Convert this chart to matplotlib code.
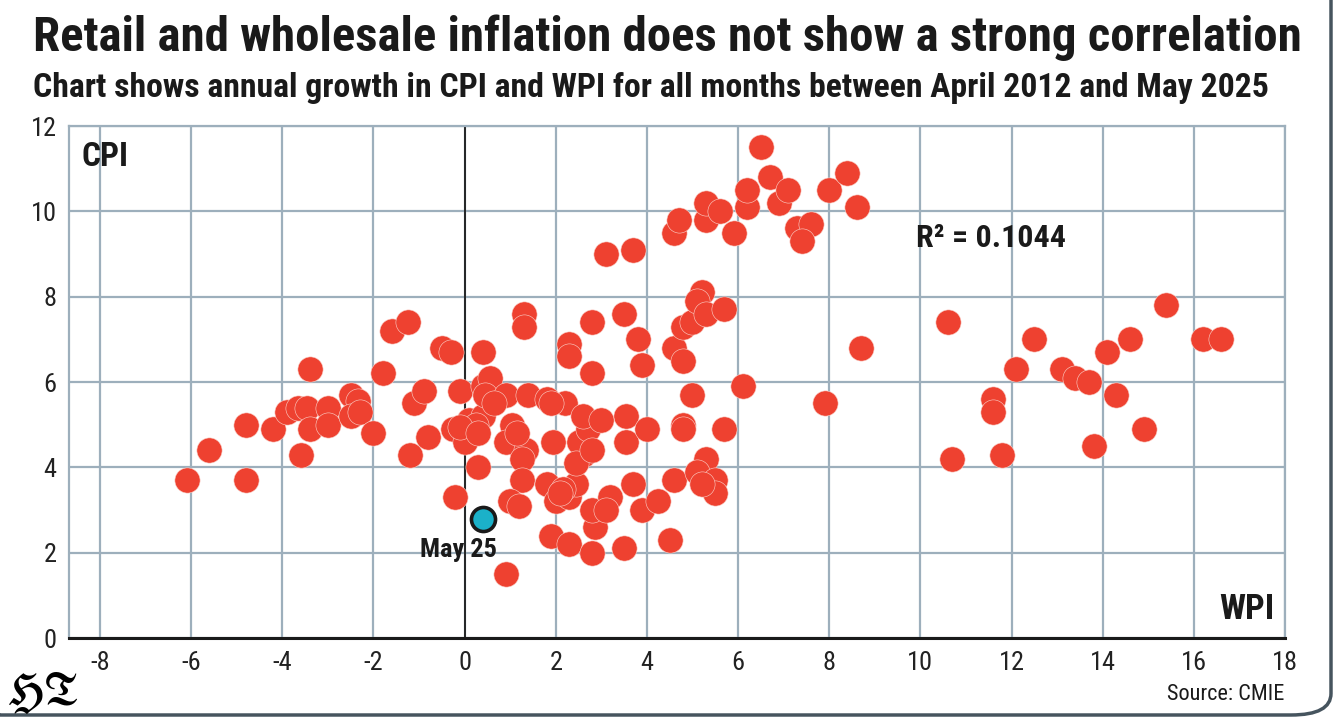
import matplotlib
matplotlib.use("Agg")
import matplotlib.pyplot as plt
from matplotlib.patches import FancyBboxPatch

# data: annual growth (%) of WPI (x) and CPI (y)
wpi = [-6.1, -5.6, -4.8, -4.8, -4.2, -3.9, -3.65, -3.45, -3.4, -3.4,
       -3.6, -3.0, -3.0, -2.5, -2.35, -2.5, -2.3, -2.0, -1.8, -1.6,
       -1.25, -1.2, -1.1, -0.9, -0.8, -0.5, -0.3, -0.1, -0.25, 0.0,
       -0.2, 0.1, 0.4, 0.4, 0.55, 0.3, 0.4, 0.25, 0.45, 0.9,
       0.65, 0.9, 1.05, 1.2, 0.9, 1.35, 1.25, 1.95, 1.25, 1.0,
       1.2, 1.8, 2.0, 2.3, 2.45, 1.9, 2.3, 2.8, 3.5, 4.5,
       2.85, 2.8, 3.2, 3.1, 3.7, 3.9, 4.25, 4.6, 5.3, 5.1,
       5.5, 5.5, 5.2, 2.6, 2.5, 2.7, 3.55, 3.55, 4.0, 4.8,
       4.8, 5.7, 1.3, 1.3, 1.4, 1.8, 2.2, 2.6, 3.0, 2.8,
       3.5, 3.8, 3.9, 2.3, 2.3, 2.8, 4.6, 4.8, 4.8, 5.0,
       5.2, 5.1, 5.3, 5.7, 5.0, 6.1, -0.1, 2.45, 2.8, 1.15,
       3.1, 3.7, 4.6, 4.7, 5.3, 5.3, 5.6, 5.9, 6.2, 6.2,
       6.5, 6.7, 6.9, 7.1, 7.3, 7.6, 7.4, 8.0, 8.4, 8.6,
       8.7, 7.9, 10.6, 10.7, 11.6, 11.6, 11.8, 12.1, 12.5, 13.1,
       13.4, 13.7, 13.8, 14.1, 14.3, 14.6, 14.9, 15.4, 16.2, 16.6,
       2.15, 0.3, 1.9, 2.1]
cpi = [3.7, 4.4, 5.0, 3.7, 4.9, 5.3, 5.4, 5.4, 4.9, 6.3,
       4.3, 5.4, 5.0, 5.7, 5.55, 5.2, 5.3, 4.8, 6.2, 7.2,
       7.4, 4.3, 5.5, 5.8, 4.7, 6.8, 6.7, 5.8, 4.9, 4.6,
       3.3, 5.1, 5.2, 5.9, 6.1, 4.0, 6.7, 5.0, 5.7, 5.7,
       5.5, 1.5, 5.0, 4.5, 4.6, 4.4, 4.2, 4.6, 3.7, 3.2,
       3.1, 3.6, 3.2, 3.3, 3.6, 2.4, 2.2, 2.0, 2.1, 2.3,
       2.6, 3.0, 3.3, 3.0, 3.6, 3.0, 3.2, 3.7, 4.2, 3.9,
       3.7, 3.4, 3.6, 4.3, 4.6, 4.9, 4.6, 5.2, 4.9, 5.0,
       4.9, 4.9, 7.6, 7.3, 5.7, 5.6, 5.5, 5.2, 5.1, 7.4,
       7.6, 7.0, 6.4, 6.9, 6.6, 6.2, 6.8, 6.5, 7.3, 7.4,
       8.1, 7.9, 7.6, 7.7, 5.7, 5.9, 4.95, 4.1, 4.4, 4.8,
       9.0, 9.1, 9.5, 9.8, 9.8, 10.2, 10.0, 9.5, 10.1, 10.5,
       11.5, 10.8, 10.2, 10.5, 9.6, 9.7, 9.3, 10.5, 10.9, 10.1,
       6.8, 5.5, 7.4, 4.2, 5.6, 5.3, 4.3, 6.3, 7.0, 6.3,
       6.1, 6.0, 4.5, 6.7, 5.7, 7.0, 4.9, 7.8, 7.0, 7.0,
       3.5, 4.8, 5.5, 3.4]

latest_wpi = [0.4]
latest_cpi = [2.8]
latest_label = "May 25"
r2_text = "R\u00b2 = 0.1044"

xticks = list(range(-8, 19, 2))
yticks = list(range(0, 13, 2))

plt.rcParams["font.family"] = ["Roboto Condensed", "Open Sans Condensed", "Roboto", "DejaVu Sans"]

red = "#ee4130"
cyan = "#1bb1c9"
gridc = "#9dafbc"
ink = "#1a1a1a"

W, H = 1333, 717
fig = plt.figure(figsize=(W / 100, H / 100), dpi=100)
ax = fig.add_axes([69 / W, (H - 638) / H, (1285 - 69) / W, (638 - 126) / H])

ax.set_xlim(-8.68, 18)
ax.set_ylim(0, 12)
ax.set_xticks(xticks)
ax.set_yticks(yticks)
ax.set_xticklabels([str(t) for t in xticks])
ax.set_yticklabels([str(t) for t in yticks])
ax.tick_params(length=0, labelsize=19, colors="#222222", pad=9)
ax.grid(True, color=gridc, lw=1.6)
ax.set_axisbelow(True)
for s in ["left", "top", "right"]:
    ax.spines[s].set_color(gridc)
    ax.spines[s].set_linewidth(1.6)
ax.spines["bottom"].set_color(ink)
ax.spines["bottom"].set_linewidth(2.2)
ax.axvline(0, color=ink, lw=1.3, zorder=1.5)

ax.scatter(wpi, cpi, s=330, color=red, edgecolors="#fbd3cb", linewidths=0.4, zorder=3)
ax.scatter(latest_wpi, latest_cpi, s=300, color=cyan, edgecolors=ink, linewidths=2.6, zorder=4)

ax.text(latest_wpi[0] - 0.53, latest_cpi[0] - 0.74, latest_label, ha="center", va="center",
        fontsize=19, fontweight="bold", color=ink, zorder=5)
ax.text(9.91, 9.37, r2_text, ha="left", va="center", fontsize=23, fontweight="bold", color=ink)
ax.text(-8.4, 11.27, "CPI", ha="left", va="center", fontsize=24, fontweight="bold", color=ink)
ax.text(17.76, 0.66, "WPI", ha="right", va="center", fontsize=25, fontweight="bold", color=ink)

title = fig.text(33 / W, 1 - 38 / H, "Retail and wholesale inflation does not show a strong correlation",
                 ha="left", va="center", fontsize=34, fontweight="bold", color=ink)
sub = fig.text(33 / W, 1 - 88 / H,
               "Chart shows annual growth in CPI and WPI for all months between April 2012 and May 2025",
               ha="left", va="center", fontsize=22, fontweight="bold", color=ink)
fig.text(1284 / W, 1 - 695 / H, "Source: CMIE", ha="right", va="center", fontsize=16, color=ink)
fig.text(6 / W, 1 - 693 / H, r"$\mathfrak{HT}$", ha="left", va="center", fontsize=33,
         math_fontfamily="stix", color="black")

# rounded card outline on the right and bottom
card = FancyBboxPatch((-40 / W, 2 / H), (1331 + 40) / W, 1.2, boxstyle="round,pad=0,rounding_size=0.03",
                      transform=fig.transFigure, fill=False, ec="#46545e", lw=2.5, clip_on=False)
fig.patches.append(card)

# fit heading widths to the reference
fig.canvas.draw()
r = fig.canvas.get_renderer()
for t, target in [(title, 1302 - 33), (sub, 1268 - 33)]:
    for _ in range(2):
        w = t.get_window_extent(r).width
        t.set_fontsize(t.get_fontsize() * target / w)
        fig.canvas.draw()

fig.savefig("out.png", dpi=100)
